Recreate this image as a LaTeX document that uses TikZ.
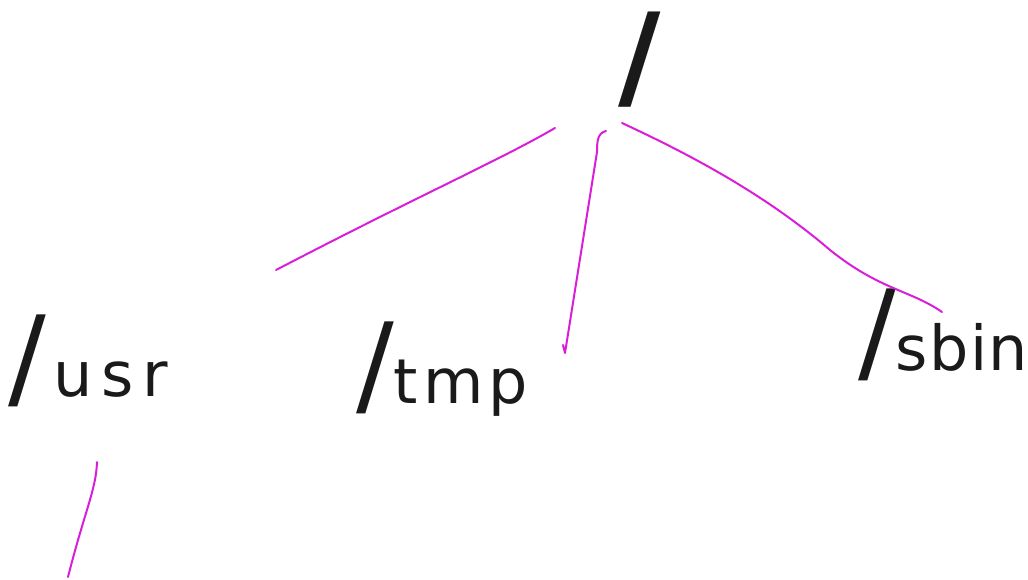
\documentclass[tikz,border=0pt]{standalone}
\usepackage{fontspec}
\setmainfont{DejaVu Sans}
\definecolor{pen}{HTML}{1A1A1A}
\definecolor{mag}{HTML}{D91ED9}
\tikzset{
  lbl/.style={text=pen, inner sep=0pt, anchor=base west},
  edge/.style={draw=mag, line width=2pt, line cap=round, line join=round},
}
\newcommand{\bigsl}{{\fontsize{112}{112}\selectfont /}}
\newcommand{\smtx}[2]{{\fontsize{62}{62}\selectfont\addfontfeatures{LetterSpace=#1}#2}}
\begin{document}
\begin{tikzpicture}[x=1pt,y=-1pt]
\useasboundingbox (0,0) rectangle (1028,579);
% nodes
\node[lbl, anchor=center, font=\fontsize{116}{116}\selectfont\bfseries] (root) at (640,60) {/};
\node[lbl] (usr) at (8,396) {\bigsl\hspace{8pt}\smtx{14}{usr}};
\node[lbl] (tmp) at (356,403) {\bigsl\smtx{8}{tmp}};
\node[lbl] (sbin) at (858,370) {\bigsl\smtx{2}{sbin}};
% connector end points
\coordinate (rl) at (555,128);
\coordinate (ul) at (276,270);
\coordinate (rm) at (606,131);
\coordinate (tm) at (565,353);
\coordinate (rr) at (622,123);
\coordinate (sr) at (942,312);
\coordinate (ud) at (97,462);
\coordinate (ue) at (68,577);
% connectors
\draw[edge] (rl) .. controls (500,160) and (420,195) .. (ul);
\draw[edge] (rm) .. controls (598,133) and (597,140) .. (597,152) -- (tm) -- ++(-2,-8);
\draw[edge] (rr) .. controls (680,150) and (760,190) .. (830,250) .. controls (880,290) and (910,290) .. (sr);
\draw[edge] (ud) .. controls (96,490) and (85,510) .. (ue);
\end{tikzpicture}
\end{document}
